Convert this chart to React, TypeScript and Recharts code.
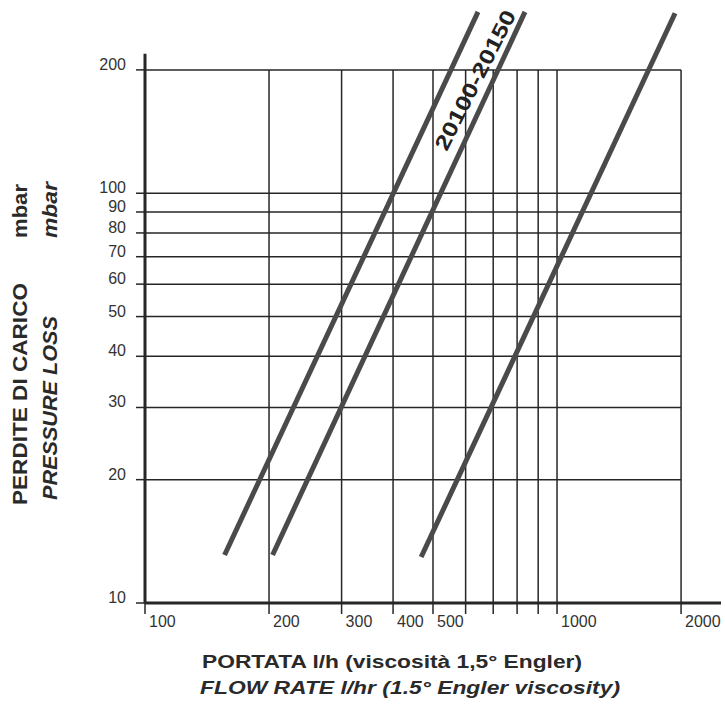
import React from 'react';
import { LineChart, Line, XAxis, YAxis, ReferenceLine, ReferenceDot, Label } from 'recharts';

// flow rate l/h (log axis)
const flowTicks = [100, 200, 300, 400, 500, 600, 700, 800, 900, 1000, 2000];
const flowLabels = [100, 200, 300, 400, 500, 1000, 2000];
// pressure loss mbar (log axis)
const lossTicks = [10, 20, 30, 40, 50, 60, 70, 80, 90, 100, 200];

// three straight curves on log-log paper, end points
const curveAFlow = [156, 643];
const curveALoss = [13.1, 277];
const curveBFlow = [204, 836];
const curveBLoss = [13.1, 277];
const curveCFlow = [468, 1934];
const curveCLoss = [12.95, 275];

const curveBName = '20100-20150';

const toPoints = (flow: number[], loss: number[]) => flow.map((f, i) => ({ flow: f, loss: loss[i] }));

const curveA = toPoints(curveAFlow, curveALoss);
const curveB = toPoints(curveBFlow, curveBLoss);
const curveC = toPoints(curveCFlow, curveCLoss);

const ink = '#262626';
const font = '"Liberation Sans", Arial, sans-serif';

const FlowTick = (props: any) => {
  const { x, y, payload } = props;
  if (!flowLabels.includes(payload.value)) return <g />;
  return (
    <text x={x + 4} y={y} dy={11.5} fontSize={16} fontFamily={font} fill="#333">
      {payload.value}
    </text>
  );
};

const LossTick = (props: any) => {
  const { x, y, payload } = props;
  return (
    <text x={x} y={y} textAnchor="end" fontSize={16} fontFamily={font} fill="#333">
      {payload.value}
    </text>
  );
};

const XTitle = () => (
  <g fontFamily={font} fontWeight="bold" fill="#2a2a2a">
    <text x={202} y={668} fontSize={18} textLength={380} lengthAdjust="spacingAndGlyphs">
      PORTATA l/h (viscosità 1,5° Engler)
    </text>
    <text x={200} y={694} fontSize={18} fontStyle="italic" textLength={420} lengthAdjust="spacingAndGlyphs">
      FLOW RATE l/hr (1.5° Engler viscosity)
    </text>
  </g>
);

const YTitle = () => (
  <g fontFamily={font} fontWeight="bold" fill="#2a2a2a" fontSize={21}>
    <text transform="translate(27 505) rotate(-90)" textLength={222} lengthAdjust="spacingAndGlyphs">
      PERDITE DI CARICO
    </text>
    <text transform="translate(27 238) rotate(-90)" textLength={54} lengthAdjust="spacingAndGlyphs">
      mbar
    </text>
    <text transform="translate(57 500) rotate(-90)" fontStyle="italic" textLength={184} lengthAdjust="spacingAndGlyphs">
      PRESSURE LOSS
    </text>
    <text transform="translate(57 238) rotate(-90)" fontStyle="italic" textLength={56} lengthAdjust="spacingAndGlyphs">
      mbar
    </text>
  </g>
);

export default function App() {
  return (
    <div style={{ position: 'absolute', left: 0, top: 0, width: 725, height: 707, background: '#fff' }}>
      <LineChart width={725} height={707} margin={{ top: 10, right: 4, bottom: 74, left: 85 }}>
        <XAxis
          dataKey="flow"
          type="number"
          scale="log"
          domain={[100, 2500]}
          ticks={flowTicks}
          interval={0}
          height={30}
          tickSize={11}
          tickMargin={1}
          tick={<FlowTick />}
          axisLine={{ stroke: ink, strokeWidth: 3 }}
          tickLine={{ stroke: ink, strokeWidth: 1.5 }}
        >
          <Label content={<XTitle />} />
        </XAxis>
        <YAxis
          dataKey="loss"
          type="number"
          scale="log"
          domain={[10, 280]}
          ticks={lossTicks}
          interval={0}
          width={60}
          tickSize={9}
          tickMargin={10}
          tick={<LossTick />}
          axisLine={false}
          tickLine={{ stroke: ink, strokeWidth: 1.5 }}
        >
          <Label content={<YTitle />} />
        </YAxis>

        {flowTicks.slice(1).map((f) => (
          <ReferenceLine
            key={'v' + f}
            segment={[{ x: f, y: 10 }, { x: f, y: 200 }]}
            stroke={ink}
            strokeWidth={1.5}
          />
        ))}
        {lossTicks.slice(1).map((l) => (
          <ReferenceLine
            key={'h' + l}
            segment={[{ x: 100, y: l }, { x: 2000, y: l }]}
            stroke={ink}
            strokeWidth={1.5}
          />
        ))}
        <ReferenceLine segment={[{ x: 100, y: 10 }, { x: 100, y: 219 }]} stroke={ink} strokeWidth={3} />

        <Line data={curveA} dataKey="loss" stroke="#4a4a4a" strokeWidth={5} dot={false} isAnimationActive={false} />
        <Line data={curveB} dataKey="loss" name={curveBName} stroke="#4a4a4a" strokeWidth={5} dot={false} isAnimationActive={false} />
        <Line data={curveC} dataKey="loss" stroke="#4a4a4a" strokeWidth={5} dot={false} isAnimationActive={false} />

        <ReferenceDot
          x={632}
          y={189}
          r={0}
          shape={(p: any) => (
            <text
              x={p.cx}
              y={p.cy}
              transform={`rotate(-63 ${p.cx} ${p.cy})`}
              textAnchor="middle"
              dominantBaseline="central"
              fontFamily={font}
              fontWeight="bold"
              fontSize={21}
              fill="#222"
              textLength={154}
              lengthAdjust="spacingAndGlyphs"
            >
              {curveBName}
            </text>
          )}
        />
      </LineChart>
    </div>
  );
}
